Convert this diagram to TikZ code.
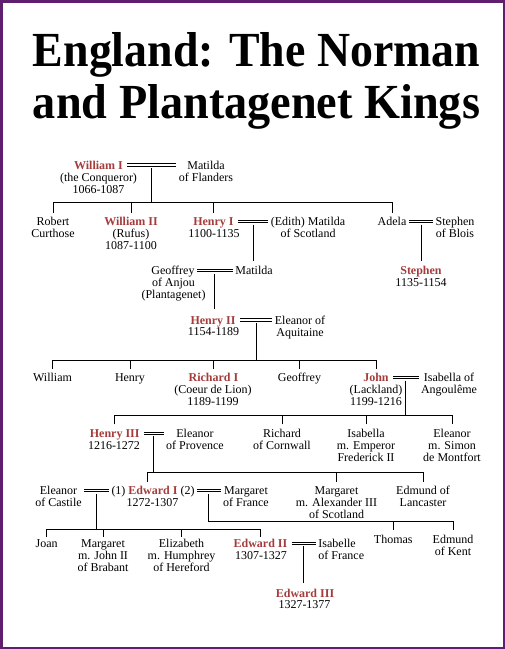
\documentclass[tikz,border=0pt]{standalone}
\usepackage{fontspec}
\setmainfont{Liberation Serif}
\usepackage{graphicx}
\definecolor{kingred}{RGB}{165,60,60}
\definecolor{framepurple}{RGB}{95,30,110}
\newcommand{\kingname}[1]{\textcolor{kingred}{\bfseries #1}}
\newcommand{\famtext}[2][c]{\begin{tabular}[t]{@{}#1@{}}#2\end{tabular}}

\begin{document}
\begin{tikzpicture}[x=1pt, y=-1pt, line width=0.9pt,
    every node/.style={anchor=base, inner xsep=2pt, inner ysep=3pt, font=\fontsize{12}{12}\selectfont},
    kingnode/.style={inner xsep=4pt},
    wed/.style={double, double distance=1.4pt}]
    \useasboundingbox (0,0) rectangle (505,649);
    \draw[framepurple, line width=2.5pt] (1.25,1.25) rectangle (503.75,647.75);
    % title
    \node (title1) at (256.5,66.7) {\resizebox{447pt}{34pt}{\bfseries England: The Norman}};
    \node (title2) at (256.5,118.3) {\resizebox{447pt}{34pt}{\bfseries and Plantagenet Kings}};
    % William I and Matilda
    \node[kingnode] (williamI) at (98.5,169) {\kingname{William I}};
    \node (williamIx) at (98.5,181) {\famtext{(the Conqueror)\\1066-1087}};
    \node (matilda) at (206,169) {\famtext{Matilda\\of Flanders}};
    \draw[wed] ([yshift=4pt]williamI.base east) -- coordinate (wed1) ([yshift=4pt]matilda.base west);
    \node (robert) at (53,225.7) {\famtext{Robert\\Curthose}};
    \node[kingnode] (williamII) at (131,225.7) {\kingname{William II}};
    \node (williamIIx) at (131,237.7) {\famtext{(Rufus)\\1087-1100}};
    \node[kingnode] (henryI) at (213.5,225.7) {\kingname{Henry I}};
    \node (henryIx) at (214,237.7) {1100-1135};
    \node (edith) at (308,225.7) {\famtext{(Edith) Matilda\\of Scotland}};
    \node (adela) at (392,225.7) {Adela};
    \node (stephenB) at (455,225.7) {\famtext{Stephen\\of Blois}};
    \draw ([yshift=13pt]robert.base) -- ++(0,-9.8) coordinate (bar1) -| ([yshift=13pt]adela.base);
    \draw ([yshift=13pt]williamII.base) -- (williamII |- bar1);
    \draw ([yshift=13pt]henryI.base) -- (henryI |- bar1);
    \draw[shorten <=3pt] (wed1) -- (wed1 |- bar1);
    \draw[wed] ([yshift=4pt]henryI.base east) -- coordinate (wed2) ([yshift=4pt]edith.base west);
    \draw[wed] ([yshift=4pt]adela.base east) -- coordinate (wedS) ([yshift=4pt]stephenB.base west);
    % Geoffrey and Matilda, Stephen
    \node (geoffreyA) at (173,274.7) {Geoffrey};
    \node (anjou) at (173.5,286.7) {\famtext{of Anjou\\(Plantagenet)}};
    \node (matildaE) at (254,274.7) {Matilda};
    \node[kingnode] (stephen) at (421,274.7) {\kingname{Stephen}};
    \node (stephenx) at (421,286.5) {1135-1154};
    \draw[shorten <=3pt, shorten >=14pt] (wed2) -- (wed2 |- matildaE.base);
    \draw[shorten <=3pt, shorten >=14pt] (wedS) -- (wedS |- stephen.base);
    \draw[wed] ([yshift=4pt]geoffreyA.base east) -- coordinate (wed3) ([yshift=4pt]matildaE.base west);
    % Henry II
    \node[kingnode] (henryII) at (213,324) {\kingname{Henry II}};
    \node (henryIIx) at (213.5,335.5) {1154-1189};
    \node (eleanorA) at (300,324) {\famtext{Eleanor of\\Aquitaine}};
    \draw[shorten <=3pt, shorten >=15pt] (wed3) -- (wed3 |- henryII.base);
    \draw[wed] ([yshift=4pt]henryII.base east) -- coordinate (wed4) ([yshift=4pt]eleanorA.base west);
    \node (william) at (52.5,381.7) {William};
    \node (henry) at (130,381.7) {Henry};
    \node[kingnode] (richardI) at (213.5,381.7) {\kingname{Richard I}};
    \node (richardIx) at (213,393.3) {\famtext{(Coeur de Lion)\\1189-1199}};
    \node (geoffrey) at (299.5,381.7) {Geoffrey};
    \node[kingnode] (john) at (376,381.7) {\kingname{John}};
    \node (johnx) at (376,393.3) {\famtext{(Lackland)\\1199-1216}};
    \node (isabellaA) at (449,381.7) {\famtext{Isabella of\\Angoulême}};
    \draw ([yshift=13pt]william.base) -- ++(0,-8) coordinate (bar4) -| ([yshift=13pt]john.base);
    \draw ([yshift=13pt]henry.base) -- (henry |- bar4);
    \draw ([yshift=13pt]richardI.base) -- (richardI |- bar4);
    \draw ([yshift=13pt]geoffrey.base) -- (geoffrey |- bar4);
    \draw[shorten <=3pt] (wed4) -- (wed4 |- bar4);
    \draw[wed] ([yshift=4pt]john.base east) -- coordinate (wed5) ([yshift=4pt]isabellaA.base west);
    % Henry III
    \node[kingnode] (henryIII) at (114.7,437.3) {\kingname{Henry III}};
    \node (henryIIIx) at (114,449) {1216-1272};
    \node (eleanorP) at (195,437.3) {\famtext{Eleanor\\of Provence}};
    \node (richardC) at (282,437.3) {\famtext{Richard\\of Cornwall}};
    \node (isabella) at (366,437.3) {\famtext{Isabella\\m. Emperor\\Frederick II}};
    \node (eleanorM) at (452,437.3) {\famtext{Eleanor\\m. Simon\\de Montfort}};
    \draw ([yshift=13pt]henryIII.base) -- ++(0,-8.7) coordinate (bar5) -| ([yshift=13pt]eleanorM.base);
    \draw ([yshift=13pt]richardC.base) -- (richardC |- bar5);
    \draw ([yshift=13pt]isabella.base) -- (isabella |- bar5);
    \draw[shorten <=3pt] (wed5) -- (wed5 |- bar5);
    \draw[wed] ([yshift=4pt]henryIII.base east) -- coordinate (wed6) ([yshift=4pt]eleanorP.base west);
    % Edward I
    \node (eleanorC) at (58.5,494.7) {\famtext{Eleanor\\of Castile}};
    \node (edwardI) at (153,494.7) {(1) \kingname{Edward I} (2)};
    \node (edwardIx) at (152.5,506.3) {1272-1307};
    \node (margaretF) at (246,494.7) {\famtext{Margaret\\of France}};
    \node (margaretS) at (336.5,494.7) {\famtext{Margaret\\m. Alexander III\\of Scotland}};
    \node (edmundL) at (423,494.7) {\famtext{Edmund of\\Lancaster}};
    \draw ([xshift=-6pt, yshift=13pt]edwardI.base) -- ++(0,-9.5) coordinate (bar6) -| ([yshift=13pt]edmundL.base);
    \draw ([yshift=13pt]margaretS.base) -- (margaretS |- bar6);
    \draw[shorten <=3pt] (wed6) -- (wed6 |- bar6);
    \draw[wed] ([yshift=4pt]eleanorC.base east) -- coordinate (wed7) ([yshift=4pt]edwardI.base west);
    \draw[wed] ([yshift=4pt]edwardI.base east) -- coordinate (wed8) ([yshift=4pt]margaretF.base west);
    \node (joan) at (46.7,547.3) {Joan};
    \node (margaretB) at (103,547.3) {\famtext{Margaret\\m. John II\\of Brabant}};
    \node (elizabeth) at (181.5,547.3) {\famtext{Elizabeth\\m. Humphrey\\of Hereford}};
    \node[kingnode] (edwardII) at (260.5,547.3) {\kingname{Edward II}};
    \node (edwardIIx) at (261,559.7) {1307-1327};
    \node[anchor=base west] (isabelleF) at (316,547.3) {\famtext[l]{Isabelle\\of France}};
    \node (thomas) at (393.3,543) {Thomas};
    \node (edmundK) at (453,543) {\famtext{Edmund\\of Kent}};
    \draw ([yshift=10.6pt]joan.base) -- ++(0,-7.4) coordinate (bar7) -| ([yshift=10.6pt]edwardII.base);
    \draw ([yshift=10.6pt]margaretB.base) -- (margaretB |- bar7);
    \draw ([yshift=10.6pt]elizabeth.base) -- (elizabeth |- bar7);
    \draw[shorten <=3pt] (wed7) -- (wed7 |- bar7);
    \draw[shorten >=3pt] ([yshift=13pt]edmundK.base) -- ++(0,-8.3) coordinate (bar8) -| (wed8);
    \draw ([yshift=13pt]thomas.base) -- (thomas |- bar8);
    \draw[wed] ([yshift=4pt]edwardII.base east) -- coordinate (wed9) ([yshift=4pt]isabelleF.base west);
    % Edward III
    \node[kingnode] (edwardIII) at (305,597.3) {\kingname{Edward III}};
    \node (edwardIIIx) at (304.5,608.3) {1327-1377};
    \draw[shorten <=3pt, shorten >=14pt] (wed9) -- (wed9 |- edwardIII.base);
\end{tikzpicture}
\end{document}
